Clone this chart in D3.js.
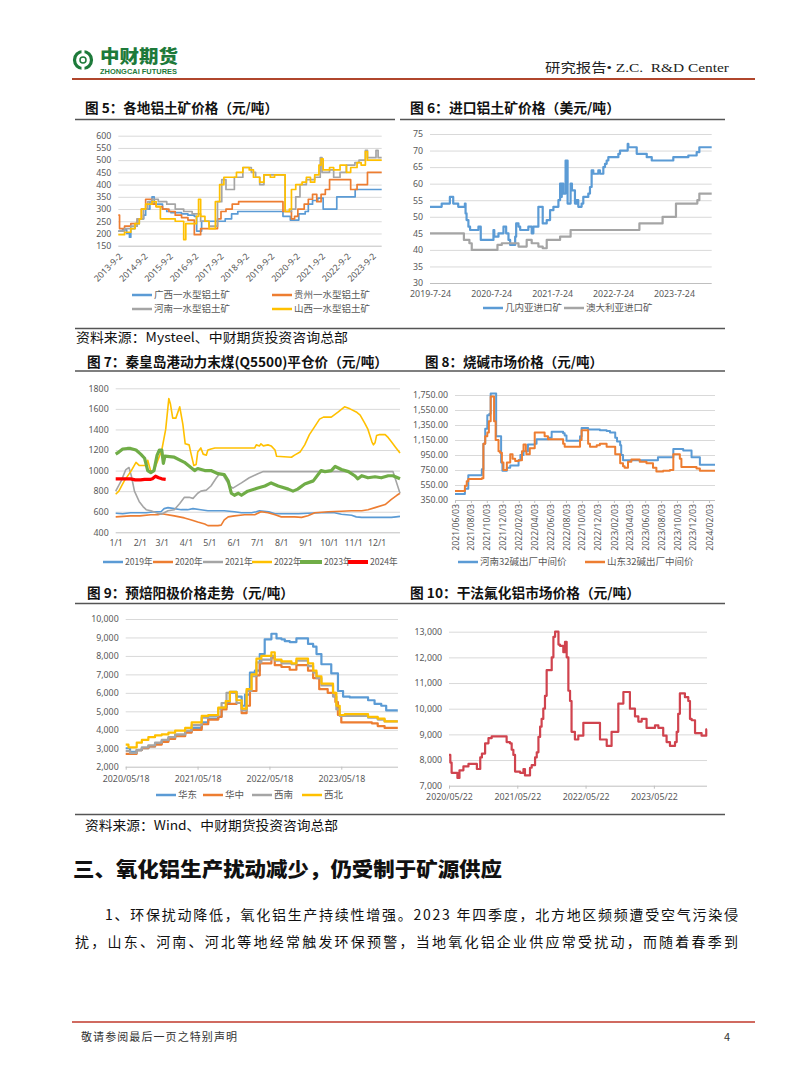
<!DOCTYPE html>
<html><head><meta charset="utf-8">
<script src="https://cdn.jsdelivr.net/npm/d3@7"></script>
<style>
body{margin:0;background:#fff;}
</style></head><body>
<svg id="page" width="802" height="1087" font-family="'Noto Sans CJK SC','Noto Sans',sans-serif"></svg>
<script>
// ---------------- DATA ----------------
// Chart 5: 各地铝土矿价格（元/吨）
const c5TickLabels = ["2013-9-2","2014-9-2","2015-9-2","2016-9-2","2017-9-2","2018-9-2","2019-9-2","2020-9-2","2021-9-2","2022-9-2","2023-9-2"];
const c5YTicks = [150,200,250,300,350,400,450,500,550,600];
const c5Names = ["广西一水型铝土矿","贵州一水型铝土矿","河南一水型铝土矿","山西一水型铝土矿"];
const c5Guangxi = [["2013-09-02",210],["2013-11-01",215],["2014-01-01",200],["2014-02-10",185],["2014-03-01",220],["2014-05-01",240],["2014-07-01",260],["2014-09-01",275],["2014-10-01",300],["2014-12-01",330],["2015-01-01",350],["2015-02-01",320],["2015-06-01",300],["2015-08-01",290],["2015-10-01",285],["2016-03-01",280],["2016-06-01",275],["2016-09-01",270],["2016-10-05",210],["2016-12-15",250],["2017-11-20",260],["2018-02-20",280],["2018-05-20",290],["2020-03-01",270],["2020-06-15",255],["2020-10-15",280],["2021-01-15",290],["2021-03-01",320],["2021-05-01",335],["2021-07-15",345],["2021-10-01",300],["2022-04-15",350],["2023-01-05",380],["2024-01-22",380]];
const c5Guizhou = [["2013-09-02",275],["2013-09-20",220],["2013-12-01",230],["2014-03-01",240],["2014-06-01",260],["2014-08-01",300],["2014-10-01",340],["2015-01-01",320],["2015-03-01",310],["2015-06-01",300],["2015-09-01",290],["2015-12-01",275],["2016-03-01",265],["2016-06-01",255],["2016-09-01",195],["2016-12-01",220],["2017-08-01",260],["2017-09-20",290],["2017-12-01",300],["2018-03-01",320],["2018-06-01",330],["2020-03-01",290],["2020-07-01",260],["2020-08-15",270],["2020-10-01",300],["2021-01-01",320],["2021-03-01",340],["2021-05-01",360],["2021-07-01",330],["2021-09-01",360],["2021-11-01",380],["2022-01-01",420],["2022-11-01",380],["2023-02-01",400],["2023-07-01",450],["2024-01-22",450]];
const c5Henan = [["2013-09-02",210],["2013-12-01",220],["2014-03-01",230],["2014-06-01",260],["2014-09-01",300],["2014-11-01",330],["2015-01-01",340],["2015-04-01",330],["2015-08-01",320],["2015-12-01",300],["2016-04-01",290],["2016-08-01",280],["2016-12-01",250],["2017-04-01",230],["2017-08-01",330],["2017-10-01",420],["2017-12-01",380],["2018-04-01",430],["2018-08-01",470],["2018-12-01",450],["2019-02-01",430],["2019-04-01",400],["2019-06-01",440],["2020-04-01",290],["2020-07-01",300],["2020-09-01",350],["2020-11-01",400],["2021-02-01",420],["2021-06-01",430],["2021-08-20",510],["2021-09-15",450],["2022-01-01",460],["2022-03-01",430],["2022-06-01",450],["2022-09-01",480],["2023-01-01",490],["2023-03-01",500],["2023-06-01",540],["2023-07-01",510],["2023-11-01",540],["2023-12-01",510],["2024-01-22",510]];
const c5Shanxi = [["2013-09-02",195],["2013-12-01",205],["2014-03-01",220],["2014-05-01",240],["2014-07-01",260],["2014-08-01",300],["2014-10-01",320],["2015-01-01",330],["2015-03-01",310],["2015-05-01",260],["2015-12-01",250],["2016-04-01",175],["2016-05-01",240],["2016-10-01",270],["2016-11-01",340],["2016-12-01",270],["2017-02-01",250],["2017-04-01",220],["2017-07-01",330],["2017-09-01",400],["2017-11-01",430],["2018-05-01",450],["2018-08-01",470],["2018-11-01",460],["2019-01-01",430],["2019-04-01",410],["2019-06-01",440],["2019-09-01",430],["2019-11-01",440],["2020-04-01",290],["2020-06-01",300],["2020-07-01",380],["2020-09-01",400],["2020-12-01",410],["2021-02-01",430],["2021-04-01",410],["2021-06-01",440],["2021-08-01",480],["2021-09-01",505],["2021-10-01",460],["2022-01-01",470],["2022-03-01",460],["2022-06-01",480],["2022-09-01",450],["2022-11-01",470],["2023-02-01",490],["2023-04-01",480],["2023-06-01",535],["2023-07-01",500],["2024-01-22",500]];

// Chart 6: 进口铝土矿价格（美元/吨）
const c6TickLabels = ["2019-7-24","2020-7-24","2021-7-24","2022-7-24","2023-7-24"];
const c6YTicks = [30,35,40,45,50,55,60,65,70,75];
const c6Names = ["几内亚进口矿","澳大利亚进口矿"];
const c6Guinea = [["2019-07-24",53],["2019-10-02",54],["2019-11-20",56],["2019-12-10",54],["2020-01-09",53],["2020-02-18",54],["2020-02-22",51],["2020-02-28",49],["2020-03-10",47],["2020-03-20",46],["2020-05-09",47],["2020-05-23",43],["2020-08-07",46],["2020-08-12",44],["2020-09-06",45],["2020-10-06",47],["2020-10-22",45],["2020-11-05",43],["2020-11-15",41.5],["2020-12-15",44],["2020-12-21",48],["2021-01-04",47],["2021-01-14",46],["2021-03-04",47],["2021-03-24",45],["2021-04-03",47],["2021-05-03",53],["2021-05-29",48],["2021-06-22",49],["2021-07-12",52],["2021-08-01",53],["2021-08-31",55],["2021-09-10",60],["2021-09-15",56],["2021-09-20",60],["2021-09-29",57],["2021-10-13",67],["2021-10-25",54],["2021-11-12",60],["2021-11-20",58],["2021-12-08",54],["2021-12-18",55],["2021-12-28",53],["2022-01-17",54],["2022-01-27",56],["2022-02-26",57],["2022-03-08",59],["2022-03-18",64],["2022-03-28",63],["2022-04-27",64],["2022-05-07",63],["2022-05-27",65],["2022-06-06",66],["2022-06-16",67],["2022-06-26",68],["2022-08-25",69],["2022-09-04",70],["2022-10-20",72],["2022-10-24",71],["2022-12-13",69],["2023-02-11",68],["2023-03-13",67],["2023-07-20",68],["2023-10-18",68.5],["2023-12-07",69.5],["2023-12-23",71],["2024-03-06",71]];
const c6Australia = [["2019-07-24",45],["2020-02-12",43],["2020-03-16",42],["2020-03-30",40],["2020-08-31",41.5],["2020-09-26",42],["2021-01-04",41],["2021-02-22",43],["2021-03-24",42],["2021-05-03",41],["2021-05-29",40.5],["2021-06-22",43],["2021-09-10",44],["2021-11-12",46],["2022-12-29",48],["2023-05-17",50],["2023-08-05",54],["2023-12-11",55],["2023-12-23",57],["2024-03-06",57]];

// Chart 7: 秦皇岛港动力末煤(Q5500)平仓价 (x = day of year)
const c7TickDays = [1,32,60,91,121,152,182,213,244,274,305,335];
const c7TickLabels = ["1/1","2/1","3/1","4/1","5/1","6/1","7/1","8/1","9/1","10/1","11/1","12/1"];
const c7YTicks = [400,600,800,1000,1200,1400,1600,1800];
const c7Names = ["2019年","2020年","2021年","2022年","2023年","2024年"];
const c7Y2019 = [[1,585],[10,580],[20,590],[40,590],[51,600],[59,600],[63,630],[68,640],[76,630],[85,620],[93,620],[100,630],[110,620],[119,610],[140,610],[153,600],[162,590],[175,590],[181,600],[185,610],[197,600],[205,580],[222,580],[235,580],[247,585],[264,590],[281,590],[290,575],[303,565],[309,550],[316,545],[354,545],[360,550],[365,555]];
const c7Y2020 = [[1,550],[20,560],[32,560],[46,570],[55,570],[60,580],[76,560],[89,540],[98,520],[106,500],[115,480],[119,465],[132,465],[136,470],[140,520],[145,550],[153,560],[166,570],[179,570],[187,600],[196,590],[205,570],[213,550],[230,550],[239,545],[247,560],[256,590],[273,600],[290,605],[303,610],[316,610],[324,620],[333,640],[346,670],[354,720],[361,760],[365,780]];
const c7Y2021 = [[1,800],[8,900],[14,1010],[18,1030],[21,950],[25,800],[31,700],[36,650],[40,620],[46,610],[53,590],[59,575],[63,590],[68,610],[76,620],[83,680],[89,740],[95,740],[100,730],[106,780],[110,800],[117,810],[123,850],[130,930],[134,970],[138,960],[147,850],[151,830],[162,880],[172,930],[183,970],[190,990],[356,990],[365,780]];
const c7Y2022 = [[1,770],[5,800],[12,900],[21,1000],[27,1080],[31,1050],[40,1050],[42,1100],[46,990],[50,1000],[55,1100],[60,1200],[65,1400],[69,1700],[71,1650],[74,1510],[78,1510],[83,1620],[87,1450],[90,1260],[95,1250],[97,1180],[101,1050],[104,1060],[106,1180],[110,1220],[113,1160],[117,1150],[119,1200],[123,1210],[128,1220],[179,1220],[181,1250],[185,1240],[187,1260],[190,1240],[196,1250],[200,1240],[205,1200],[207,1140],[226,1130],[230,1150],[237,1180],[243,1250],[249,1350],[256,1430],[262,1500],[267,1520],[277,1520],[286,1570],[294,1620],[301,1600],[309,1570],[314,1540],[320,1460],[324,1400],[329,1280],[331,1250],[333,1270],[335,1340],[339,1350],[346,1350],[350,1320],[354,1280],[359,1230],[365,1170]];
const c7Y2023 = [[1,1160],[5,1180],[10,1210],[16,1215],[20,1215],[27,1200],[33,1160],[38,1120],[42,1000],[46,980],[50,1000],[54,1150],[57,1200],[60,1200],[62,1070],[64,1140],[76,1130],[89,1080],[102,1000],[106,1020],[115,1000],[123,1000],[132,970],[140,960],[145,900],[149,780],[153,760],[158,780],[162,760],[170,800],[183,830],[192,850],[200,880],[209,850],[222,820],[228,800],[234,820],[243,870],[254,900],[264,1000],[269,990],[277,1000],[282,1040],[290,1010],[299,990],[307,950],[311,920],[316,950],[324,930],[333,940],[341,930],[350,950],[356,950],[365,920]];
const c7Y2024 = [[1,920],[20,920],[26,910],[33,910],[38,915],[46,915],[48,920],[52,945],[56,930],[60,920],[65,915]];

// Chart 8: 烧碱市场价格（元/吨）
const c8TickLabels = ["2021/06/03","2021/08/03","2021/10/03","2021/12/03","2022/02/03","2022/04/03","2022/06/03","2022/08/03","2022/10/03","2022/12/03","2023/02/03","2023/04/03","2023/06/03","2023/08/03","2023/10/03","2023/12/03","2024/02/03"];
const c8YTicks = [350,550,750,950,1150,1350,1550,1750];
const c8Names = ["河南32碱出厂中间价","山东32碱出厂中间价"];
const c8Henan = [["2021-06-03",430],["2021-07-11",500],["2021-07-24",680],["2021-09-14",760],["2021-09-20",1100],["2021-09-27",1300],["2021-10-05",1480],["2021-10-13",1500],["2021-10-18",1770],["2021-11-08",1200],["2021-11-27",850],["2021-12-02",740],["2021-12-19",780],["2022-01-01",810],["2022-02-02",880],["2022-02-09",950],["2022-02-21",1000],["2022-03-10",1090],["2022-04-05",1100],["2022-04-12",1160],["2022-05-26",1180],["2022-06-09",1260],["2022-07-23",1240],["2022-07-29",1210],["2022-08-05",1140],["2022-09-26",1200],["2022-10-02",1310],["2022-10-27",1290],["2022-12-11",1280],["2023-01-06",1270],["2023-01-19",1250],["2023-02-08",1180],["2023-02-15",1130],["2023-02-27",1080],["2023-03-03",950],["2023-03-10",880],["2023-07-22",920],["2023-09-19",1030],["2023-10-27",1010],["2023-11-28",920],["2023-12-30",820],["2024-02-26",820]];
const c8Shandong = [["2021-06-03",470],["2021-07-11",540],["2021-07-18",600],["2021-07-24",630],["2021-09-14",640],["2021-09-20",1100],["2021-09-27",1200],["2021-10-05",1250],["2021-10-11",1400],["2021-10-18",1730],["2021-10-31",1400],["2021-11-06",1150],["2021-11-17",1000],["2021-11-23",980],["2021-11-30",850],["2021-12-06",750],["2021-12-19",850],["2022-01-01",960],["2022-01-10",900],["2022-01-20",870],["2022-02-02",880],["2022-02-15",1000],["2022-02-21",1090],["2022-03-02",1000],["2022-03-04",960],["2022-03-17",1040],["2022-04-05",1250],["2022-05-13",1200],["2022-05-26",1160],["2022-07-23",1100],["2022-07-29",1060],["2022-09-26",1150],["2022-10-02",1280],["2022-10-27",1100],["2022-11-03",1060],["2022-11-29",1080],["2022-12-11",1100],["2023-01-06",1060],["2023-02-08",960],["2023-02-27",840],["2023-03-10",800],["2023-03-16",780],["2023-03-29",860],["2023-04-11",890],["2023-05-13",860],["2023-06-08",840],["2023-07-03",780],["2023-07-16",730],["2023-08-11",740],["2023-09-06",750],["2023-09-19",960],["2023-10-14",900],["2023-10-20",790],["2023-12-17",770],["2023-12-30",740],["2024-02-26",740]];

// Chart 9: 预焙阳极价格走势（元/吨）
const c9TickLabels = ["2020/05/18","2021/05/18","2022/05/18","2023/05/18"];
const c9YTicks = [2000,3000,4000,5000,6000,7000,8000,9000,10000];
const c9Names = ["华东","华中","西南","西北"];
const c9Huadong = [["2020-05-18",3000],["2020-06-09",2800],["2020-07-13",2900],["2020-08-08",3000],["2020-09-10",3100],["2020-10-14",3250],["2020-11-17",3400],["2020-12-21",3550],["2021-01-24",3700],["2021-03-16",3900],["2021-04-18",4100],["2021-06-08",4400],["2021-07-11",4600],["2021-08-31",4700],["2021-09-17",5200],["2021-10-12",5500],["2021-10-29",6050],["2021-12-02",5800],["2021-12-28",5300],["2022-01-14",5900],["2022-02-08",7100],["2022-03-05",7200],["2022-03-30",8100],["2022-04-24",8900],["2022-05-28",9200],["2022-06-23",8950],["2022-07-18",8900],["2022-08-04",8800],["2022-08-29",8750],["2022-10-02",8950],["2022-11-30",8650],["2022-12-26",8500],["2023-01-12",8100],["2023-02-06",7550],["2023-03-28",7050],["2023-05-01",6100],["2023-05-27",5800],["2023-06-30",5750],["2023-10-01",5600],["2023-11-03",5400],["2023-12-07",5300],["2024-01-01",5050],["2024-02-29",5050]];
const c9Huazhong = [["2020-05-18",2700],["2020-07-13",2900],["2020-08-08",3000],["2020-09-10",3100],["2020-10-14",3200],["2020-11-17",3350],["2020-12-21",3500],["2021-01-24",3650],["2021-03-16",3850],["2021-04-18",4000],["2021-06-08",4300],["2021-07-11",4550],["2021-08-31",4700],["2021-09-17",5100],["2021-10-12",5400],["2021-12-02",5450],["2021-12-28",4900],["2022-01-22",5300],["2022-02-08",6100],["2022-03-13",6950],["2022-03-30",7600],["2022-05-28",7900],["2022-06-14",7500],["2022-07-18",7400],["2022-08-29",7250],["2022-10-02",7500],["2022-11-30",7200],["2022-12-26",6800],["2023-01-26",6200],["2023-03-10",6000],["2023-04-18",5500],["2023-05-01",4800],["2023-05-18",4400],["2023-10-20",4350],["2023-11-19",4200],["2023-12-24",4100],["2024-02-29",4100]];
const c9Xinan = [["2020-05-18",2850],["2020-06-09",2750],["2020-07-13",2900],["2020-08-08",3050],["2020-09-10",3150],["2020-10-14",3300],["2020-11-17",3450],["2020-12-21",3600],["2021-01-24",3750],["2021-03-16",3950],["2021-04-18",4250],["2021-06-08",4650],["2021-07-11",4750],["2021-08-31",5150],["2021-09-17",5450],["2021-10-12",6000],["2021-12-02",5450],["2021-12-28",5050],["2022-01-22",6100],["2022-02-16",6900],["2022-03-13",7650],["2022-04-07",7800],["2022-05-28",8000],["2022-06-14",7750],["2022-07-18",7600],["2022-09-07",7550],["2022-10-02",7750],["2022-11-30",7450],["2022-12-26",7100],["2023-01-12",6800],["2023-02-06",6400],["2023-04-06",5800],["2023-04-23",5100],["2023-05-10",4750],["2023-10-01",4650],["2023-11-19",4550],["2023-12-24",4450],["2024-02-29",4450]];
const c9Xibei = [["2020-05-18",3200],["2020-06-01",3050],["2020-07-13",3300],["2020-08-08",3450],["2020-09-10",3600],["2020-10-14",3700],["2020-11-17",3750],["2020-12-21",3850],["2021-01-24",3950],["2021-03-16",4100],["2021-04-18",4400],["2021-06-08",4750],["2021-07-11",4800],["2021-08-31",5200],["2021-10-08",5550],["2021-10-29",6050],["2021-12-02",5600],["2021-12-28",5150],["2022-01-22",6200],["2022-02-16",7000],["2022-03-13",7850],["2022-04-07",8000],["2022-05-28",8200],["2022-06-14",7800],["2022-07-18",7700],["2022-09-07",7600],["2022-10-02",7850],["2022-11-30",7600],["2022-12-26",7200],["2023-01-12",6900],["2023-02-06",6500],["2023-04-06",6000],["2023-04-23",5300],["2023-05-10",4800],["2023-06-05",4850],["2023-10-01",4700],["2023-11-19",4600],["2023-12-24",4450],["2024-02-29",4450]];

// Chart 10: 干法氟化铝市场价格（元/吨）
const c10TickLabels = ["2020/05/22","2021/05/22","2022/05/22","2023/05/22"];
const c10YTicks = [7000,8000,9000,10000,11000,12000,13000];
const c10Price = [["2020-05-22",8200],["2020-05-29",7900],["2020-06-05",7500],["2020-07-06",7300],["2020-07-17",7600],["2020-08-07",7750],["2020-09-03",7850],["2020-10-18",7650],["2020-11-05",8100],["2020-11-14",8250],["2020-12-01",8650],["2020-12-19",8850],["2021-01-05",8920],["2021-03-26",8700],["2021-04-13",8650],["2021-04-22",8400],["2021-05-01",8200],["2021-05-10",7550],["2021-06-06",7500],["2021-06-24",7650],["2021-07-02",7400],["2021-07-29",7700],["2021-08-07",7800],["2021-08-25",8100],["2021-09-03",8300],["2021-09-12",8900],["2021-09-21",9300],["2021-09-29",9600],["2021-10-08",10000],["2021-10-17",10500],["2021-10-26",11500],["2021-11-22",12000],["2021-12-01",12800],["2021-12-10",13000],["2021-12-28",12500],["2022-01-05",12450],["2022-01-23",12200],["2022-02-01",12600],["2022-02-10",12000],["2022-02-19",10700],["2022-02-28",10300],["2022-03-08",9100],["2022-03-26",8800],["2022-04-13",8950],["2022-05-10",9450],["2022-08-07",8800],["2022-09-12",8550],["2022-10-08",9100],["2022-11-13",10200],["2022-12-10",10650],["2023-01-14",10000],["2023-02-10",9700],["2023-02-28",9500],["2023-03-18",9600],["2023-04-13",9250],["2023-05-28",9350],["2023-06-15",9250],["2023-07-11",8950],["2023-07-29",8700],["2023-08-16",8550],["2023-09-12",8700],["2023-09-21",9100],["2023-09-29",9800],["2023-10-08",10600],["2023-11-04",10450],["2023-11-22",10300],["2023-12-01",9600],["2023-12-10",9550],["2023-12-28",9050],["2024-02-01",8950],["2024-02-26",9200],["2024-03-01",9200]];

// ---------------- DRAWING ----------------
const svg = d3.select("#page");
svg.append("rect").attr("width",802).attr("height",1087).attr("fill","#fff");
const pd = d3.timeParse("%Y-%m-%d");
const AX = "#595959", GRID = "#d9d9d9", AXIS = "#bfbfbf";
const BLUE="#5B9BD5", ORANGE="#ED7D31", GRAY="#A5A5A5", YELLOW="#FFC000", GREEN="#70AD47", RED="#FF0000", C10="#D0434E";
const NUMF = "'Noto Sans','Noto Sans CJK SC',sans-serif";

function yAxis(y, ticks, x1, x2, fmt, fs){
  const g = svg.append("g").attr("transform",`translate(${x1},0)`)
    .call(d3.axisLeft(y).tickValues(ticks).tickSize(-(x2-x1)).tickPadding(7).tickFormat(fmt));
  g.select(".domain").remove();
  g.selectAll(".tick line").attr("stroke",(d,i)=> i===0 ? AXIS : GRID).attr("stroke-width",1);
  g.selectAll(".tick text").attr("fill",AX).attr("font-size",fs||8.8).attr("font-family",NUMF);
  return g;
}
function xAxis(x, yPos, vals, labels, opts){
  opts = opts||{};
  const g = svg.append("g").attr("transform",`translate(0,${yPos})`)
    .call(d3.axisBottom(x).tickValues(vals).tickSize(opts.tick||0).tickFormat((d,i)=>labels[i]));
  g.select(".domain").remove();
  g.selectAll(".tick line").attr("stroke",AXIS);
  const t = g.selectAll(".tick text").attr("fill",AX).attr("font-size",opts.fs||8.8).attr("font-family",NUMF);
  if (opts.rotate === -45){
    t.attr("x",0).attr("y",0).attr("dy","0.35em").attr("text-anchor","end")
     .attr("transform","translate(2,9) rotate(-45)");
  } else if (opts.rotate === -90){
    t.attr("x",0).attr("y",0).attr("dy","0.35em").attr("text-anchor","end")
     .attr("transform","translate(0,4) rotate(-90)");
  } else {
    t.attr("y",opts.off||10).attr("dy","0.35em");
  }
  return g;
}
function drawLine(data, x, y, color, w, curve, parseX){
  const line = d3.line().x(d=>x(parseX? parseX(d[0]) : d[0])).y(d=>y(d[1])).curve(curve);
  svg.append("path").datum(data).attr("d",line).attr("fill","none")
    .attr("stroke",color).attr("stroke-width",w).attr("stroke-linejoin","round");
}
function legend(items, y, fs){
  items.forEach(it=>{
    svg.append("line").attr("x1",it.x).attr("x2",it.x+(it.len||20)).attr("y1",y).attr("y2",y)
      .attr("stroke",it.color).attr("stroke-width",it.w||2.5);
    svg.append("text").attr("x",it.x+(it.len||20)+2).attr("y",y).attr("dy","0.35em")
      .attr("font-size",fs||9.5).attr("fill",AX).text(it.name);
  });
}
function title(txt, x, y, w){
  svg.append("text").attr("x",x).attr("y",y).attr("font-size",13.5).attr("font-weight",700)
    .attr("fill","#111").attr("textLength",w).attr("lengthAdjust","spacingAndGlyphs").text(txt);
}
function hline(x1,x2,y,color,w){
  svg.append("line").attr("x1",x1).attr("x2",x2).attr("y1",y).attr("y2",y).attr("stroke",color).attr("stroke-width",w);
}

// ---- Header ----
svg.append("circle").attr("cx",83).attr("cy",60).attr("r",8.5).attr("fill","none").attr("stroke","#1d7a3a").attr("stroke-width",3.2);
svg.append("rect").attr("x",81.5).attr("y",50).attr("width",3).attr("height",20).attr("fill","#fff");
svg.append("circle").attr("cx",83).attr("cy",60).attr("r",3).attr("fill","#fff").attr("stroke","#1d7a3a").attr("stroke-width",1.5);
svg.append("text").attr("x",100).attr("y",63).attr("font-size",18).attr("font-weight",900).attr("fill","#1d7a3a")
  .attr("textLength",78).attr("lengthAdjust","spacingAndGlyphs").text("中财期货");
svg.append("text").attr("x",100).attr("y",74).attr("font-size",6.5).attr("font-weight",700).attr("fill","#1d7a3a")
  .attr("font-family","'Liberation Sans',sans-serif").attr("textLength",77).attr("lengthAdjust","spacingAndGlyphs").text("ZHONGCAI FUTURES");
svg.append("text").attr("x",545).attr("y",72).attr("font-size",13).attr("fill","#222")
  .attr("font-family","'Liberation Serif','Noto Sans CJK SC',serif").style("white-space","pre")
  .attr("textLength",184).attr("lengthAdjust","spacingAndGlyphs").text("研究报告• Z.C.  R&D Center");
hline(72,755,79,"#b0462c",2);

// ---- Row 1 frame ----
title("图 5：各地铝土矿价格（元/吨）",85,113,193);
title("图 6：进口铝土矿价格（美元/吨）",410,113,210);
hline(75,395,119.5,"#555",1.3);
hline(400,725,119.5,"#555",1.3);

// Chart 5
{
  const x = d3.scaleTime().domain([pd("2013-09-02"),pd("2024-01-22")]).range([118.3,381.7]);
  const y = d3.scaleLinear().domain([150,600]).range([245.7,135.7]);
  yAxis(y, c5YTicks, 118.3, 381.7, d3.format("d"));
  const tp = d3.timeParse("%Y-%m-%d");
  xAxis(x, 245.7, c5TickLabels.map(s=>tp(s)), c5TickLabels, {rotate:-45});
  const series = [[c5Guangxi,BLUE],[c5Guizhou,ORANGE],[c5Henan,GRAY],[c5Shanxi,YELLOW]];
  series.forEach(([d,c])=>drawLine(d,x,y,c,1.7,d3.curveStepAfter,pd));
  legend([{x:132,name:c5Names[0],color:BLUE},{x:272,name:c5Names[1],color:ORANGE}],295);
  legend([{x:132,name:c5Names[2],color:GRAY},{x:272,name:c5Names[3],color:YELLOW}],309);
}
// Chart 6
{
  const x = d3.scaleTime().domain([pd("2019-07-24"),pd("2024-03-06")]).range([430,711.7]);
  const y = d3.scaleLinear().domain([30,75]).range([283,134]);
  yAxis(y, c6YTicks, 430, 711.7, d3.format("d"));
  const tp = d3.timeParse("%Y-%m-%d");
  xAxis(x, 283, c6TickLabels.map(s=>tp(s)), c6TickLabels, {off:11});
  drawLine(c6Guinea,x,y,BLUE,2.2,d3.curveStepAfter,pd);
  drawLine(c6Australia,x,y,GRAY,2.2,d3.curveStepAfter,pd);
  legend([{x:483,name:c6Names[0],color:BLUE},{x:564,name:c6Names[1],color:GRAY}],308);
}
hline(75,725,328.5,"#555",1.3);
svg.append("text").attr("x",76).attr("y",342).attr("font-size",13).attr("fill","#111")
  .attr("textLength",272).attr("lengthAdjust","spacingAndGlyphs").text("资料来源：Mysteel、中财期货投资咨询总部");

// ---- Row 2 ----
title("图 7：秦皇岛港动力末煤(Q5500)平仓价（元/吨）",87,366.5,301);
title("图 8：烧碱市场价格（元/吨）",425,366.5,178);
hline(75,400,371,"#555",1.3);
hline(400,725,371,"#555",1.3);

// Chart 7
{
  const x = d3.scaleLinear().domain([1,365]).range([115.7,400]);
  const y = d3.scaleLinear().domain([400,1800]).range([532.3,388.3]);
  yAxis(y, c7YTicks, 115.7, 400, d3.format("d"));
  xAxis(x, 532.3, c7TickDays, c7TickLabels, {off:11});
  const series = [[c7Y2019,BLUE,1.6],[c7Y2020,ORANGE,1.6],[c7Y2021,GRAY,1.6],[c7Y2022,YELLOW,1.6],[c7Y2023,GREEN,3.2],[c7Y2024,RED,3.2]];
  series.forEach(([d,c,w])=>drawLine(d,x,y,c,w,d3.curveLinear));
  legend([
    {x:103,name:c7Names[0],color:BLUE},{x:153,name:c7Names[1],color:ORANGE},
    {x:203,name:c7Names[2],color:GRAY},{x:252,name:c7Names[3],color:YELLOW},
    {x:300,name:c7Names[4],color:GREEN,w:4,len:22},{x:348,name:c7Names[5],color:RED,w:4}],562, 8.6);
}
// Chart 8
{
  const x = d3.scaleTime().domain([pd("2021-06-03"),pd("2024-02-26")]).range([455,715]);
  const y = d3.scaleLinear().domain([350,1750]).range([500,395]);
  yAxis(y, c8YTicks, 455, 715, d3.format(",.2f"));
  const tp = d3.timeParse("%Y/%m/%d");
  xAxis(x, 500, c8TickLabels.map(s=>tp(s)), c8TickLabels, {rotate:-90, tick:3});
  drawLine(c8Henan,x,y,BLUE,2,d3.curveStepAfter,pd);
  drawLine(c8Shandong,x,y,ORANGE,2,d3.curveStepAfter,pd);
  legend([{x:458,name:c8Names[0],color:BLUE},{x:585,name:c8Names[1],color:ORANGE}],562);
}

// ---- Row 3 ----
title("图 9：预焙阳极价格走势（元/吨）",87,598,207);
title("图 10：干法氟化铝市场价格（元/吨）",410,598,230);
hline(75,400,603.5,"#555",1.3);
hline(400,725,603.5,"#555",1.3);

// Chart 9
{
  const x = d3.scaleTime().domain([pd("2020-05-18"),pd("2024-03-01")]).range([125.7,398]);
  const y = d3.scaleLinear().domain([2000,10000]).range([766.7,619]);
  yAxis(y, c9YTicks, 125.7, 398, d3.format(","));
  const tp = d3.timeParse("%Y/%m/%d");
  xAxis(x, 766.7, c9TickLabels.map(s=>tp(s)), c9TickLabels, {off:12, tick:3});
  const series = [[c9Huadong,BLUE],[c9Huazhong,ORANGE],[c9Xinan,GRAY],[c9Xibei,YELLOW]];
  series.forEach(([d,c])=>drawLine(d,x,y,c,2.2,d3.curveStepAfter,pd));
  legend([{x:156,name:c9Names[0],color:BLUE},{x:203,name:c9Names[1],color:ORANGE},
          {x:252,name:c9Names[2],color:GRAY},{x:302,name:c9Names[3],color:YELLOW}],795);
}
// Chart 10
{
  const x = d3.scaleTime().domain([pd("2020-05-22"),pd("2024-03-01")]).range([449,707]);
  const y = d3.scaleLinear().domain([7000,13000]).range([785.7,631.7]);
  yAxis(y, c10YTicks, 449, 707, d3.format(","));
  const tp = d3.timeParse("%Y/%m/%d");
  xAxis(x, 785.7, c10TickLabels.map(s=>tp(s)), c10TickLabels, {off:11, tick:3});
  drawLine(c10Price,x,y,C10,2.2,d3.curveStepAfter,pd);
}
hline(75,725,814.5,"#555",1.3);
svg.append("text").attr("x",85).attr("y",830).attr("font-size",13).attr("fill","#111")
  .attr("textLength",253).attr("lengthAdjust","spacingAndGlyphs").text("资料来源：Wind、中财期货投资咨询总部");

// ---- Body text ----
svg.append("text").attr("x",73).attr("y",877).attr("font-size",20).attr("font-weight",900).attr("fill","#111")
  .attr("textLength",429).attr("lengthAdjust","spacingAndGlyphs").text("三、氧化铝生产扰动减少，仍受制于矿源供应");
svg.append("text").attr("x",105).attr("y",920).attr("font-size",14).attr("fill","#111")
  .attr("textLength",633).attr("lengthAdjust","spacing").text("1、环保扰动降低，氧化铝生产持续性增强。2023 年四季度，北方地区频频遭受空气污染侵");
svg.append("text").attr("x",75).attr("y",947).attr("font-size",14).attr("fill","#111")
  .attr("textLength",663).attr("lengthAdjust","spacing").text("扰，山东、河南、河北等地经常触发环保预警，当地氧化铝企业供应常受扰动，而随着春季到");

// ---- Footer ----
hline(72,755,1022,"#c0392b",1.5);
svg.append("text").attr("x",81).attr("y",1041).attr("font-size",11).attr("fill","#333")
  .attr("textLength",156).attr("lengthAdjust","spacing").text("敬请参阅最后一页之特别声明");
svg.append("text").attr("x",724).attr("y",1041).attr("font-size",11).attr("fill","#333").text("4");
</script>
</body></html>
